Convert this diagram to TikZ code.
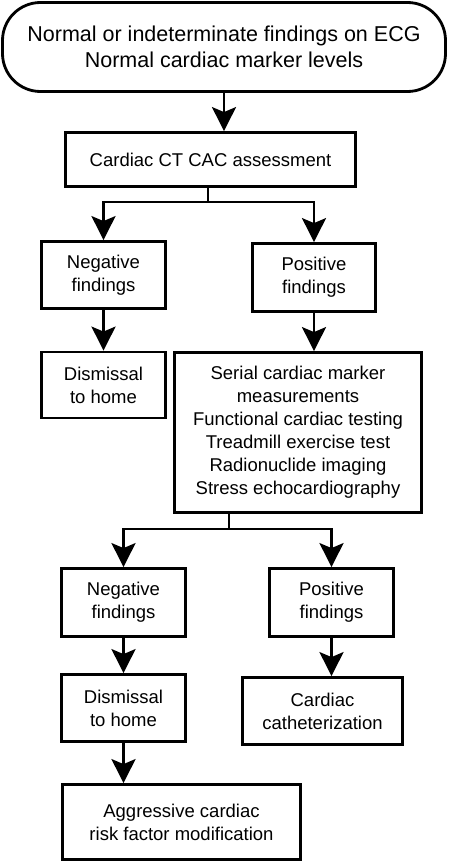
\documentclass[tikz,border=0pt]{standalone}
\usepackage{fontspec}
\setmainfont{Liberation Sans}
\usetikzlibrary{arrows.meta}
\begin{document}
\begin{tikzpicture}[x=1pt,y=1pt,
  box/.style={draw,line width=2.8pt,rectangle,align=center,inner sep=0pt,
    font=\fontsize{18.5}{23}\selectfont},
  arr/.style={line width=2.8pt,-{Stealth[length=24pt,width=24pt,inset=5pt]}},
  ln/.style={line width=2.8pt}]
\useasboundingbox (0,0) rectangle (449,-862);
\node[box,rounded corners=38pt,minimum width=443pt,minimum height=89pt,
  font=\fontsize{21.5}{26}\selectfont] (top) at (224,-47)
  {Normal or indeterminate findings on ECG\\Normal cardiac marker levels};
\node[box,minimum width=290pt,minimum height=54pt] (ct) at (210.5,-159.5) {Cardiac CT CAC assessment};
\node[box,minimum width=124pt,minimum height=67pt] (neg1) at (103.5,-275) {Negative\\findings};
\node[box,minimum width=123pt,minimum height=68pt] (pos1) at (314,-277.5) {Positive\\findings};
\node[box,minimum width=124pt,minimum height=66pt] (dis1) at (103.5,-385) {Dismissal\\to home};
\node[box,minimum width=247pt,minimum height=160pt] (ser) at (298,-432.5)
  {Serial cardiac marker\\measurements\\Functional cardiac testing\\Treadmill exercise test\\Radionuclide imaging\\Stress echocardiography};
\node[box,minimum width=124pt,minimum height=68pt] (neg2) at (123.5,-602.5) {Negative\\findings};
\node[box,minimum width=124pt,minimum height=68pt] (pos2) at (331.5,-602.5) {Positive\\findings};
\node[box,minimum width=124pt,minimum height=67pt] (dis2) at (123.5,-708) {Dismissal\\to home};
\node[box,minimum width=160pt,minimum height=67pt] (cath) at (322.5,-711) {Cardiac\\catheterization};
\node[box,minimum width=238pt,minimum height=75pt] (agg) at (181.5,-822) {Aggressive cardiac\\risk factor modification};
\coordinate (b1) at (208,-202);
\coordinate (b2) at (229,-529);
\draw[arr] (top.south) -- (top.south |- ct.north);
\draw[ln] (ct.south -| b1) -- (b1);
\draw[arr] (b1) -| (neg1.north);
\draw[arr] (b1) -| (pos1.north);
\draw[arr] (neg1.south) -- (dis1.north);
\draw[arr] (pos1.south) -- (pos1.south |- ser.north);
\draw[ln] (ser.south -| b2) -- (b2);
\draw[arr] (b2) -| (neg2.north);
\draw[arr] (b2) -| (pos2.north);
\draw[arr] (neg2.south) -- (dis2.north);
\draw[arr] (pos2.south) -- (pos2.south |- cath.north);
\draw[arr] (dis2.south) -- (dis2.south |- agg.north);
\end{tikzpicture}
\end{document}
